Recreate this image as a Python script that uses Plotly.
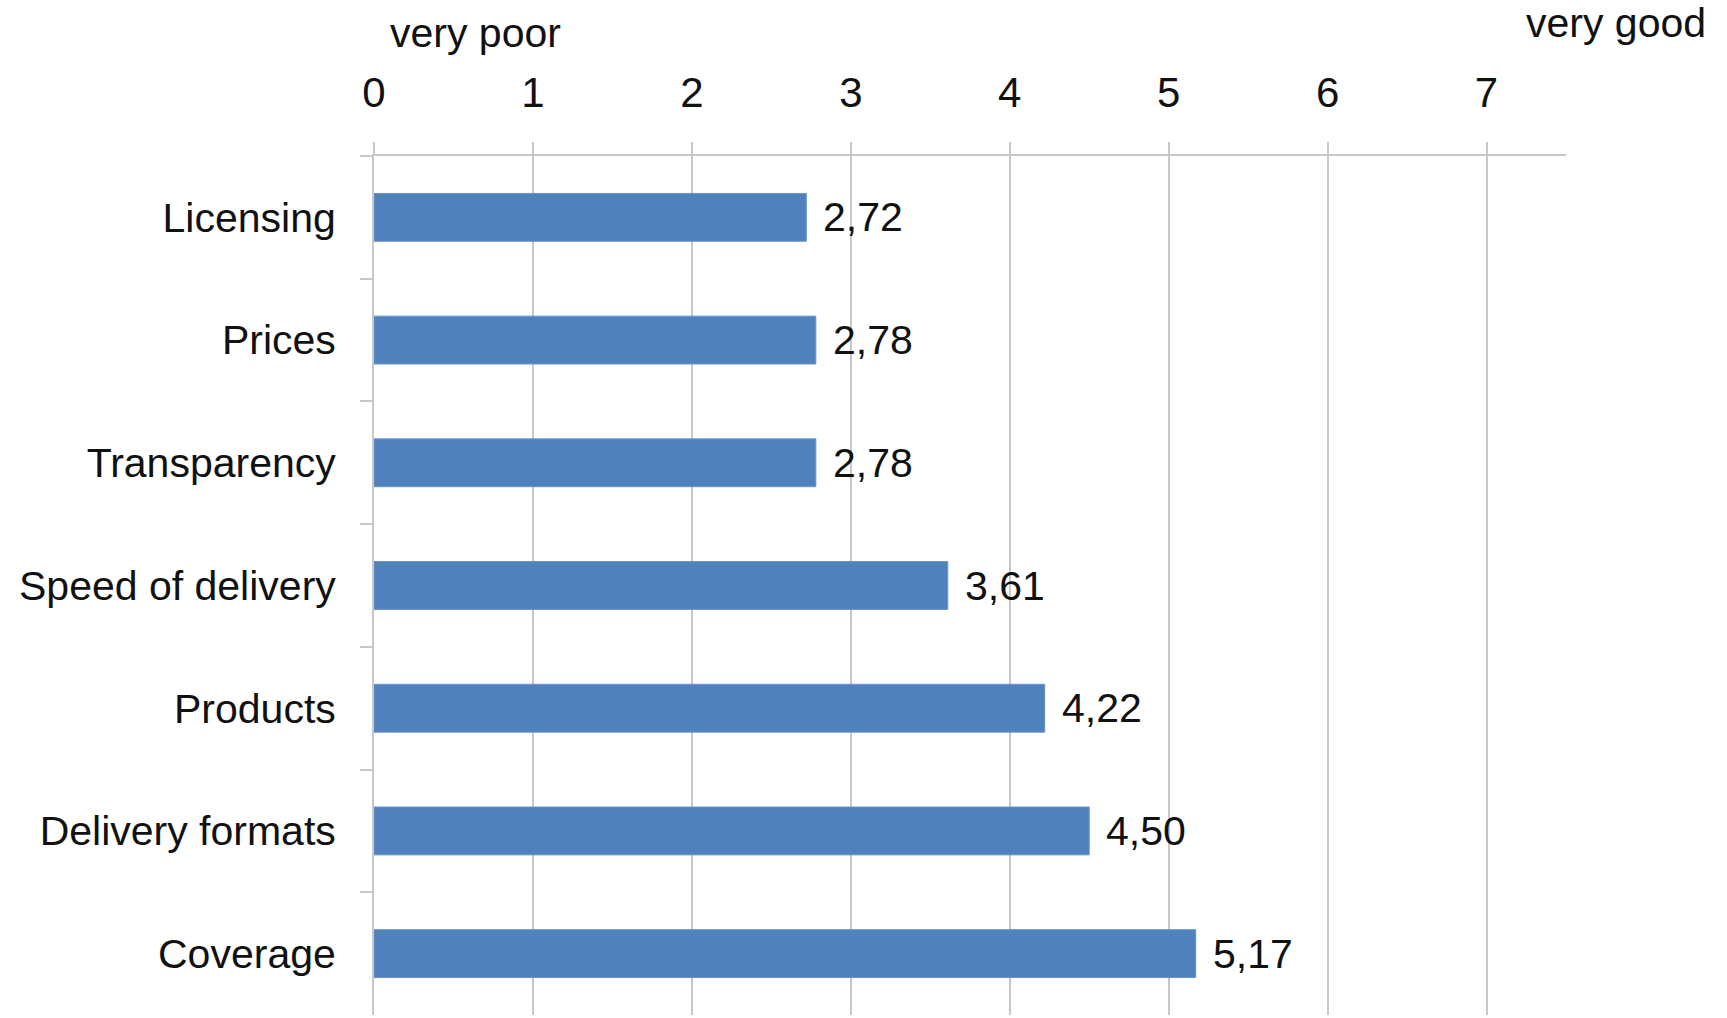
import plotly.graph_objects as go

categories = ["Licensing", "Prices", "Transparency", "Speed of delivery",
              "Products", "Delivery formats", "Coverage"]
values = [2.72, 2.78, 2.78, 3.61, 4.22, 4.50, 5.17]
x_ticks = [0, 1, 2, 3, 4, 5, 6, 7]
left_label = "very poor"
right_label = "very good"

FONT = "Liberation Sans, Arial, sans-serif"
BLUE = "#4F81BD"
GRID = "#c8c8c8"
TXT = "#111111"

fig = go.Figure()
fig.add_trace(go.Bar(
    y=categories, x=values, orientation="h",
    marker=dict(color=BLUE, line=dict(color="#6a93c8", width=1)),
    width=0.39, hoverinfo="skip", showlegend=False,
))

annotations = []
for c, v in zip(categories, values):
    annotations.append(dict(
        x=v, y=c, xref="x", yref="y", text=f"{v:.2f}".replace(".", ","),
        xanchor="left", yanchor="middle", xshift=15, showarrow=False,
        font=dict(family=FONT, size=41, color=TXT),
    ))
annotations.append(dict(
    x=0.0117, y=1.143, xref="paper", yref="paper", text=left_label,
    xanchor="left", yanchor="middle", showarrow=False,
    font=dict(family=FONT, size=41, color=TXT),
))
annotations.append(dict(
    x=1.119, y=1.155, xref="paper", yref="paper", text=right_label,
    xanchor="right", yanchor="middle", showarrow=False,
    font=dict(family=FONT, size=41, color=TXT),
))

fig.update_layout(
    width=1727, height=1018,
    margin=dict(l=374, r=161, t=156, b=3),
    paper_bgcolor="white", plot_bgcolor="white",
    annotations=annotations,
    font=dict(family=FONT, size=41, color=TXT),
    xaxis=dict(
        side="top", range=[0, 7.5], tickmode="array", tickvals=x_ticks,
        ticktext=[str(t) for t in x_ticks],
        showline=True, linecolor=GRID, linewidth=2,
        showgrid=True, gridcolor=GRID, gridwidth=2, zeroline=False,
        ticks="outside", ticklen=12, tickcolor=GRID, tickwidth=2,
        ticklabelstandoff=18,
        tickfont=dict(family=FONT, size=42, color=TXT),
    ),
    yaxis=dict(
        autorange="reversed", showline=True, linecolor=GRID, linewidth=2,
        showgrid=False, zeroline=False,
        ticks="outside", tickson="boundaries", ticklen=12, tickcolor=GRID, tickwidth=2,
        ticklabelstandoff=28,
        tickfont=dict(family=FONT, size=41, color=TXT),
    ),
)

fig.write_html("out.html")
